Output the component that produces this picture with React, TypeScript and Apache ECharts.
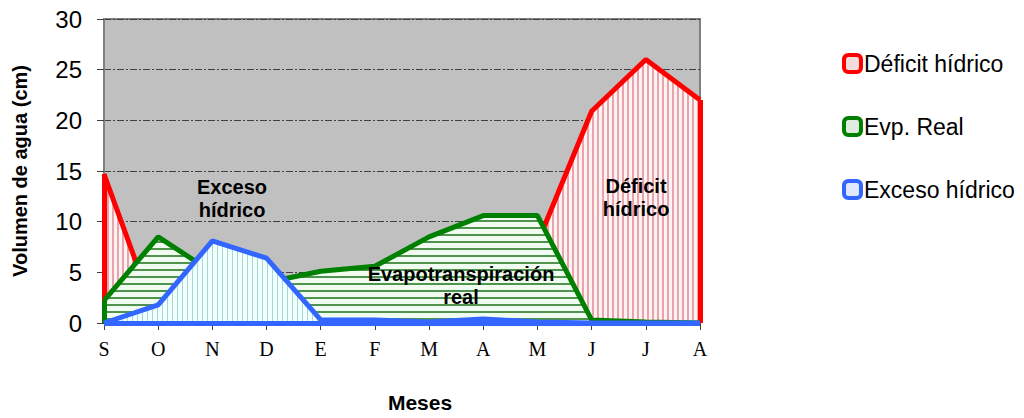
import React, { useEffect, useRef } from "react";
import * as echarts from "echarts";

const months = ["S", "O", "N", "D", "E", "F", "M", "A", "M", "J", "J", "A"];
const deficit = [14.7, 0, 0, 0, 0, 0, 0, 0, 7.9, 20.9, 26.0, 22.0];
const evpReal = [2.2, 8.5, 5.0, 4.0, 5.1, 5.6, 8.5, 10.6, 10.6, 0.3, 0.1, 0];
const exceso = [0, 1.8, 8.1, 6.4, 0.3, 0.3, 0.1, 0.4, 0.1, 0, 0, 0];
const yTicks = { min: 0, max: 30, interval: 5 };

function makePattern(w: number, h: number, bg: string, fg: string, vertical: boolean, off: number, thick: number) {
  const c = document.createElement("canvas");
  c.width = w;
  c.height = h;
  const ctx = c.getContext("2d")!;
  ctx.fillStyle = bg;
  ctx.fillRect(0, 0, w, h);
  ctx.fillStyle = fg;
  if (vertical) ctx.fillRect(off, 0, thick, h);
  else ctx.fillRect(0, off, w, thick);
  return { image: c.toDataURL(), repeat: "repeat", imageWidth: w, imageHeight: h } as any;
}

const SANS = "Arial, 'Liberation Sans', sans-serif";

export default function App() {
  const ref = useRef<HTMLDivElement>(null);
  useEffect(() => {
    const chart = echarts.init(ref.current!, null, { renderer: "svg" });
    const redPat = makePattern(5, 4, "#fff2f2", "#e8a4aa", true, 2, 2);
    const greenPat = makePattern(4, 7, "#f0fcf0", "#4f934f", false, 3, 2);
    const bluePat = makePattern(5, 4, "#f2ffff", "#a8d8d4", true, 2, 1);
    const boldTxt = {
      fontFamily: SANS,
      fontWeight: "bold",
      fontSize: 20,
      fill: "#000",
      textAlign: "center",
      lineHeight: 23,
    };
    const edge = (v: number[], color: string, z: number, pairs: number[][][]) => ({
      silent: true,
      z,
      symbol: ["none", "none"],
      label: { show: false },
      lineStyle: { color, width: 5, type: "solid" },
      data: pairs.map((p) => [{ coord: p[0] }, { coord: p[1] }]),
    });
    const last = months.length - 1;
    const option: any = {
      animation: false,
      grid: {
        left: 104,
        right: 324,
        top: 19,
        bottom: 94,
        show: true,
        backgroundColor: "#c0c0c0",
        borderColor: "#808080",
        borderWidth: 2,
      },
      legend: {
        orient: "vertical",
        left: 837,
        top: 47,
        itemGap: 40,
        itemWidth: 17,
        itemHeight: 17,
        icon: "roundRect",
        textStyle: { fontSize: 23, color: "#000", fontFamily: SANS, padding: [0, 0, 0, -2] },
        data: [
          { name: "Déficit hídrico", itemStyle: { color: "#f4dcdc", borderColor: "#ff0000", borderWidth: 4 } },
          { name: "Evp. Real", itemStyle: { color: "#e0ece0", borderColor: "#008000", borderWidth: 4 } },
          { name: "Exceso hídrico", itemStyle: { color: "#e0e8ff", borderColor: "#3366ff", borderWidth: 4 } },
        ],
      },
      xAxis: {
        type: "category",
        data: months,
        boundaryGap: false,
        name: "Meses",
        nameLocation: "middle",
        nameGap: 69,
        nameTextStyle: { fontSize: 21, fontWeight: "bold", color: "#000", fontFamily: SANS, padding: [0, 0, 0, 36] },
        axisLine: { lineStyle: { color: "#808080", width: 2 } },
        axisTick: { show: true, length: 7, lineStyle: { color: "#404040" } },
        axisLabel: { fontSize: 20, color: "#000", fontFamily: "'Liberation Serif', 'Times New Roman', serif", margin: 16 },
        splitLine: { show: false },
      },
      yAxis: {
        type: "value",
        min: yTicks.min,
        max: yTicks.max,
        interval: yTicks.interval,
        name: "Volumen de agua (cm)",
        nameLocation: "middle",
        nameGap: 74,
        nameTextStyle: { fontSize: 20, fontWeight: "bold", color: "#000", fontFamily: SANS },
        axisLine: { show: true, lineStyle: { color: "#808080", width: 2 } },
        axisTick: { show: true, length: 7, lineStyle: { color: "#404040" } },
        axisLabel: { fontSize: 24, color: "#000", fontFamily: SANS, margin: 22 },
        splitLine: { show: true, lineStyle: { color: "#404040", width: 1, type: [7, 2, 2, 2] } },
      },
      series: [
        {
          name: "Déficit hídrico",
          type: "line",
          z: 2,
          data: deficit,
          symbol: "none",
          lineStyle: { color: "#ff0000", width: 5 },
          itemStyle: { color: "#ff0000" },
          areaStyle: { color: redPat, opacity: 1 },
          markLine: edge(deficit, "#ff0000", 2.5, [
            [[0, 0], [0, deficit[0]]],
            [[last, 0], [last, deficit[last]]],
          ]),
        },
        {
          name: "Evp. Real",
          type: "line",
          z: 3,
          data: evpReal,
          symbol: "none",
          lineStyle: { color: "#008000", width: 5 },
          itemStyle: { color: "#008000" },
          areaStyle: { color: greenPat, opacity: 1 },
          markLine: edge(evpReal, "#008000", 3.5, [[[0, 0], [0, evpReal[0]]]]),
        },
        {
          name: "Exceso hídrico",
          type: "line",
          z: 4,
          data: exceso,
          symbol: "none",
          lineStyle: { color: "#3366ff", width: 5 },
          itemStyle: { color: "#3366ff" },
          areaStyle: { color: bluePat, opacity: 1 },
          markLine: edge(exceso, "#3366ff", 4.5, [[[0, 0], [last, 0]]]),
        },
      ],
      graphic: [
        { type: "text", x: 232, y: 175, z: 10, style: { ...boldTxt, text: "Exceso\nhídrico" } },
        { type: "text", x: 636, y: 174, z: 10, style: { ...boldTxt, text: "Déficit\nhídrico" } },
        { type: "text", x: 461, y: 262, z: 10, style: { ...boldTxt, text: "Evapotranspiración\nreal" } },
      ],
    };
    chart.setOption(option);
    return () => chart.dispose();
  }, []);
  return (
    <div
      ref={ref}
      style={{ position: "fixed", left: 0, top: 0, width: 1024, height: 418, background: "#fff" }}
    />
  );
}
